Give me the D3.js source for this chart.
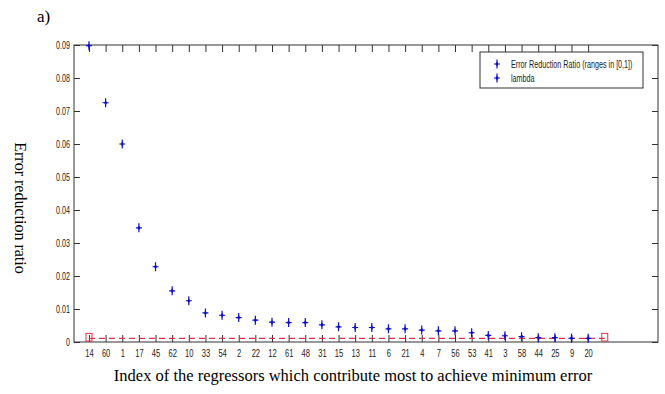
<!DOCTYPE html>
<html><head><meta charset="utf-8">
<script src="https://cdn.jsdelivr.net/npm/d3@7"></script>
<style>body{margin:0;background:#fff}</style>
</head><body>
<svg id="c" width="665" height="394"></svg>
<script>
const categories = ["14","60","1","17","45","62","10","33","54","2","22","12","61","48","31","15","13","11","6","21","4","7","56","53","41","3","58","44","25","9","20"];
const errValues = [0.0898,0.0725,0.0600,0.0346,0.0228,0.0155,0.0125,0.0088,0.0081,0.0074,0.0066,0.0060,0.0059,0.0059,0.0052,0.0046,0.0044,0.0044,0.0040,0.0040,0.0036,0.0034,0.0034,0.0028,0.0020,0.0019,0.0016,0.0013,0.0013,0.0011,0.0011];
const lambdaValue = 0.0011;
const yTicks = [0,0.01,0.02,0.03,0.04,0.05,0.06,0.07,0.08,0.09];
const legendLabels = ["Error Reduction Ratio (ranges in [0,1])","lambda"];

const svg = d3.select("#c");
const L=74, R=658, T=45, B=342;
const x = d3.scaleLinear().domain([-0.9, 34.2]).range([L, R]);
const y = d3.scaleLinear().domain([0, 0.09]).range([B, T]);
const tickFont = "'Liberation Sans',Arial,sans-serif";
const serif = "'Liberation Serif','Times New Roman',serif";
const idx = categories.map((d,i)=>i);
function condense(sel, f){
  sel.each(function(){
    const w = this.getComputedTextLength();
    d3.select(this).attr("textLength", w*f).attr("lengthAdjust","spacingAndGlyphs");
  });
}

// frame
svg.append("rect").attr("x",L).attr("y",T).attr("width",R-L).attr("height",B-T)
  .attr("fill","none").attr("stroke","#333").attr("stroke-width",1);

// y ticks left and right (inward)
const gy = svg.append("g").attr("transform",`translate(${L},0)`)
  .call(d3.axisLeft(y).tickValues(yTicks).tickSizeInner(-6).tickSizeOuter(0).tickPadding(4)
  .tickFormat(d=> d===0 ? "0" : d3.format(".2f")(d)));
gy.select(".domain").remove();
gy.selectAll("line").attr("stroke","#333");
gy.selectAll("text").attr("font-family",tickFont).attr("font-size",10.5).attr("fill","#222").call(condense,0.68);
const gyr = svg.append("g").attr("transform",`translate(${R},0)`)
  .call(d3.axisRight(y).tickValues(yTicks).tickSizeInner(-6).tickSizeOuter(0).tickFormat(""));
gyr.select(".domain").remove();
gyr.selectAll("line").attr("stroke","#333");

// x ticks bottom and top (inward)
const gx = svg.append("g").attr("transform",`translate(0,${B})`)
  .call(d3.axisBottom(x).tickValues(idx).tickSizeInner(-7).tickSizeOuter(0).tickPadding(8)
  .tickFormat(i=>categories[i]));
gx.select(".domain").remove();
gx.selectAll("line").attr("stroke","#333");
gx.selectAll("text").attr("font-family",tickFont).attr("font-size",10.5).attr("fill","#222").call(condense,0.72);
const gxt = svg.append("g").attr("transform",`translate(0,${T})`)
  .call(d3.axisTop(x).tickValues(idx).tickSizeInner(-7).tickSizeOuter(0).tickFormat(""));
gxt.select(".domain").remove();
gxt.selectAll("line").attr("stroke","#333");

// lambda dashed line with square ends
const lamX0 = 0, lamX1 = categories.length;
svg.append("line").attr("x1",x(lamX0)).attr("x2",x(lamX1))
  .attr("y1",y(lambdaValue)).attr("y2",y(lambdaValue))
  .attr("stroke","#e0304a").attr("stroke-width",1.3).attr("stroke-dasharray","6,4");
[lamX0, lamX1].forEach(v=>{
  svg.append("rect").attr("x",x(v)-3).attr("y",y(lambdaValue)-5).attr("width",6).attr("height",B-y(lambdaValue)+4)
    .attr("fill","none").attr("stroke","#e0304a").attr("stroke-width",1);
});

// markers
function marker(g){
  g.append("path").attr("d","M0,-4.5V4.5M-3,0H3").attr("stroke","#1010c8").attr("stroke-width",1.2);
  g.append("path").attr("d","M0,-2.5L1.5,0L0,2.5L-1.5,0Z").attr("fill","#1010c8");
}
svg.append("g").selectAll("g").data(errValues).join("g")
  .attr("transform",(d,i)=>`translate(${x(i)},${y(d)})`).each(function(){marker(d3.select(this));});

// legend
const lg = svg.append("g");
lg.append("rect").attr("x",480).attr("y",52).attr("width",163).attr("height",36)
  .attr("fill","#fff").attr("stroke","#333").attr("stroke-width",1);
legendLabels.forEach((t,i)=>{
  const gy0 = 64 + i*14;
  const m = lg.append("g").attr("transform",`translate(497,${gy0})`);
  marker(m);
  lg.append("g").attr("transform",`translate(511,${gy0+3.5}) scale(0.72,1)`)
    .append("text").attr("x",0).attr("y",0).text(t)
    .attr("font-family",tickFont).attr("font-size",10).attr("fill","#222");
});

// labels
svg.append("text").attr("x",37).attr("y",22).text("a)")
  .attr("font-family",serif).attr("font-size",17).attr("fill","#000");
svg.append("text").attr("transform","translate(15,208) rotate(90)").attr("text-anchor","middle")
  .text("Error  reduction ratio").attr("font-family",serif).attr("font-size",16).attr("fill","#000");
svg.append("text").attr("x",353).attr("y",381).attr("text-anchor","middle")
  .text("Index of the regressors which contribute most to achieve minimum error")
  .attr("font-family",serif).attr("font-size",16.5).attr("fill","#000");
</script>
</body></html>
